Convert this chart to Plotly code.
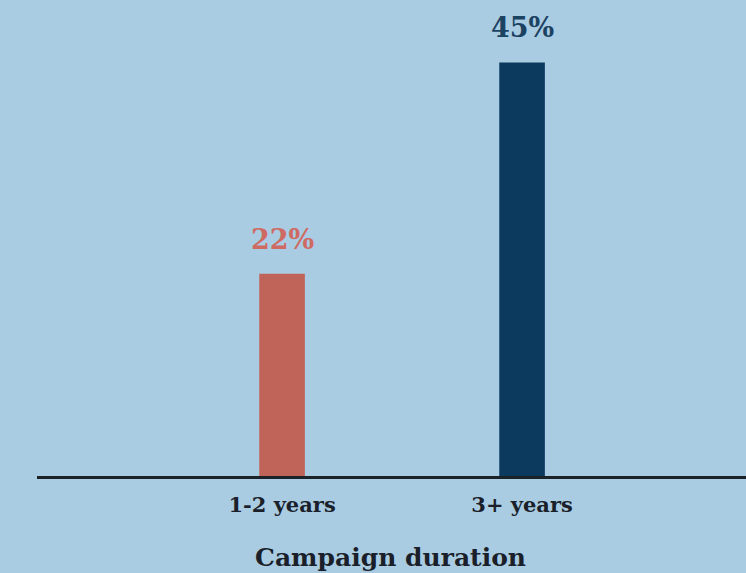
import plotly.graph_objects as go

categories = ["1-2 years", "3+ years"]
values = [22, 45]
labels = ["22%", "45%"]
bar_colors = ["#c0645a", "#0c3a5e"]
label_colors = ["#cf6a62", "#1c4262"]
x_title = "Campaign duration"

BG = "#a9cce3"
FONT = "DejaVu Serif"

fig = go.Figure()
fig.add_trace(go.Bar(
    x=categories, y=values, marker=dict(color=bar_colors, line=dict(width=0)),
    width=0.19, hoverinfo="skip",
))
for c, v, t, col in zip(categories, values, labels, label_colors):
    fig.add_annotation(x=c, y=v, text=f"<b>{t}</b>", showarrow=False,
                       yanchor="bottom", yshift=17,
                       font=dict(family=FONT, size=27, color=col))

fig.add_annotation(x=0.499, y=-0.172, xref="paper", yref="paper",
                   text=f"<b>{x_title}</b>", showarrow=False,
                   xanchor="center", yanchor="middle",
                   font=dict(family=FONT, size=25, color="#1a1f2a"))

fig.update_layout(
    width=746, height=573,
    margin=dict(l=37, r=0, t=0, b=97),
    paper_bgcolor=BG, plot_bgcolor=BG,
    showlegend=False,
    xaxis=dict(range=[-1.021, 1.933], showgrid=False, zeroline=False,
               showline=True, linewidth=3, linecolor="#1b2329",
               ticks="outside", ticklen=8, tickcolor="rgba(0,0,0,0)",
               tickfont=dict(family=FONT, size=21, color="#1a1f2a"),
               tickprefix="<b>", ticksuffix="</b>"),
    yaxis=dict(range=[0, 51.8], visible=False, showgrid=False, zeroline=False),
)

fig.write_html("out.html")
